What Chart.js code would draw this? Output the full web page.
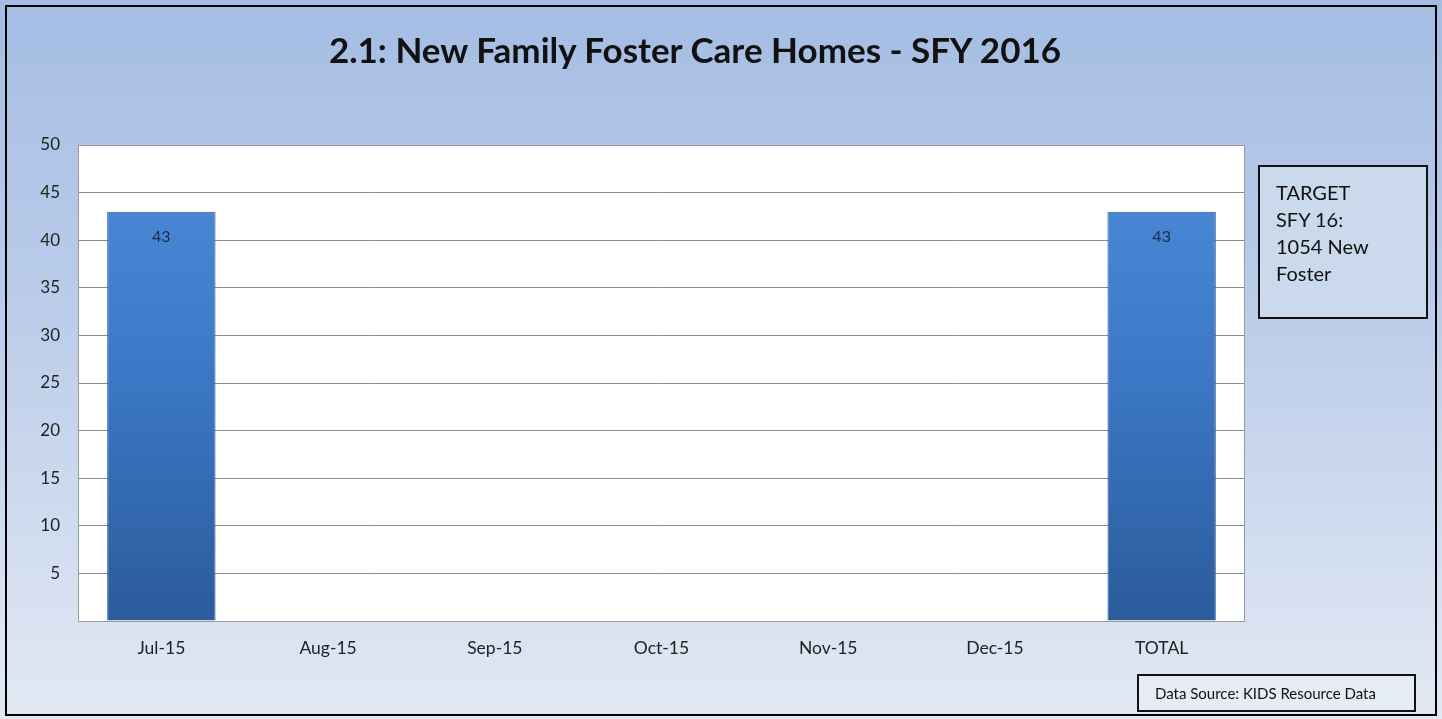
<!DOCTYPE html>
<html><head><meta charset="utf-8">
<script src="https://cdn.jsdelivr.net/npm/chart.js@4.4.0/dist/chart.umd.min.js"></script>
<style>
html,body{margin:0;padding:0;width:1442px;height:719px;overflow:hidden;background:#fff;}
#wrap{position:absolute;left:0;top:0;width:1442px;height:719px;}
#frame{position:absolute;left:5px;top:5px;width:1428px;height:707px;border:2px solid #000;}
#title{position:absolute;left:195px;width:1000px;top:28px;text-align:center;font-family:Lato,"Open Sans",sans-serif;font-weight:bold;font-size:35px;line-height:42px;color:#111;}
.box{position:absolute;border:2px solid #111;font-family:Lato,"Open Sans",sans-serif;color:#111;}
#target{left:1258px;top:165px;width:170px;height:154px;background:rgba(205,218,236,0.9);font-size:20px;line-height:27px;padding:0 0 0 16px;box-sizing:border-box;padding-top:12px;}
#source{left:1137px;top:674px;width:279px;height:38px;background:rgba(230,236,245,0.9);font-size:15px;line-height:34px;padding-left:16px;box-sizing:border-box;}
</style></head>
<body>
<div id="wrap"><canvas id="c" width="1442" height="719"></canvas></div>
<div id="frame"></div>
<div id="title"></div>
<div class="box" id="target">TARGET<br>SFY 16:<br>1054 New<br>Foster</div>
<div class="box" id="source">Data Source: KIDS Resource Data</div>
<script>
const categories = ["Jul-15","Aug-15","Sep-15","Oct-15","Nov-15","Dec-15","TOTAL"];
const homes = [43, null, null, null, null, null, 43];
const titleText = "2.1: New Family Foster Care Homes - SFY 2016";
document.getElementById('title').textContent = titleText;

const bgPlugin = {
  id:'bg',
  beforeDraw(chart){
    const {ctx, chartArea:a} = chart;
    ctx.save();
    const g = ctx.createLinearGradient(0,0,0,719);
    g.addColorStop(0,'#a5bde4');
    g.addColorStop(0.4,'#b9cbe9');
    g.addColorStop(1,'#e2e9f4');
    ctx.fillStyle = g;
    ctx.fillRect(0,0,1442,719);
    ctx.fillStyle = '#ffffff';
    ctx.fillRect(a.left,a.top,a.right-a.left,a.bottom-a.top);
    ctx.restore();
  },
  afterDatasetsDraw(chart){
    const {ctx, chartArea:a} = chart;
    ctx.save();
    ctx.strokeStyle = '#9a9a9a';
    ctx.lineWidth = 1;
    ctx.strokeRect(a.left+0.5,a.top+0.5,a.right-a.left-1,a.bottom-a.top);
    const meta = chart.getDatasetMeta(0);
    ctx.fillStyle = '#1c2b45';
    ctx.font = '16px Lato, "Open Sans", sans-serif';
    ctx.textAlign = 'center';
    ctx.textBaseline = 'middle';
    meta.data.forEach((el,i)=>{
      const v = homes[i];
      if (v == null) return;
      ctx.fillText(String(v), el.x, el.y + 25);
    });
    ctx.restore();
  }
};

new Chart(document.getElementById('c'), {
  type:'bar',
  data:{
    labels:categories,
    datasets:[{
      data:homes,
      backgroundColor:(c)=>{
        const a = c.chart.chartArea;
        if(!a) return '#3a74c0';
        const g = c.chart.ctx.createLinearGradient(0,a.top,0,a.bottom);
        g.addColorStop(0,'#4d8cda');
        g.addColorStop(0.5,'#3b77c4');
        g.addColorStop(1,'#2b5b9b');
        return g;
      },
      borderColor:'#2b5a98',
      borderWidth:1,
      barPercentage:0.65,
      categoryPercentage:1
    }]
  },
  options:{
    responsive:false,
    animation:false,
    devicePixelRatio:1,
    layout:{padding:{left:18,right:197,top:145,bottom:0}},
    plugins:{
      legend:{display:false},
      tooltip:{enabled:false},
      title:{display:false}
    },
    scales:{
      x:{
        grid:{display:false,drawTicks:false},
        border:{display:false},
        ticks:{color:'#222',font:{family:'Lato, "Open Sans", sans-serif',size:17.5},padding:17,maxRotation:0},
        afterFit:(s)=>{s.height=98;}
      },
      y:{
        min:0,max:50,
        grid:{color:'#8c8c8c',lineWidth:1,drawTicks:false},
        border:{display:false},
        ticks:{stepSize:5,color:'#222',font:{family:'Lato, "Open Sans", sans-serif',size:17},padding:18,
          callback:(v)=> v===0 ? '' : v},
        afterFit:(s)=>{s.width=60;}
      }
    }
  },
  plugins:[bgPlugin]
});
</script>
</body></html>
